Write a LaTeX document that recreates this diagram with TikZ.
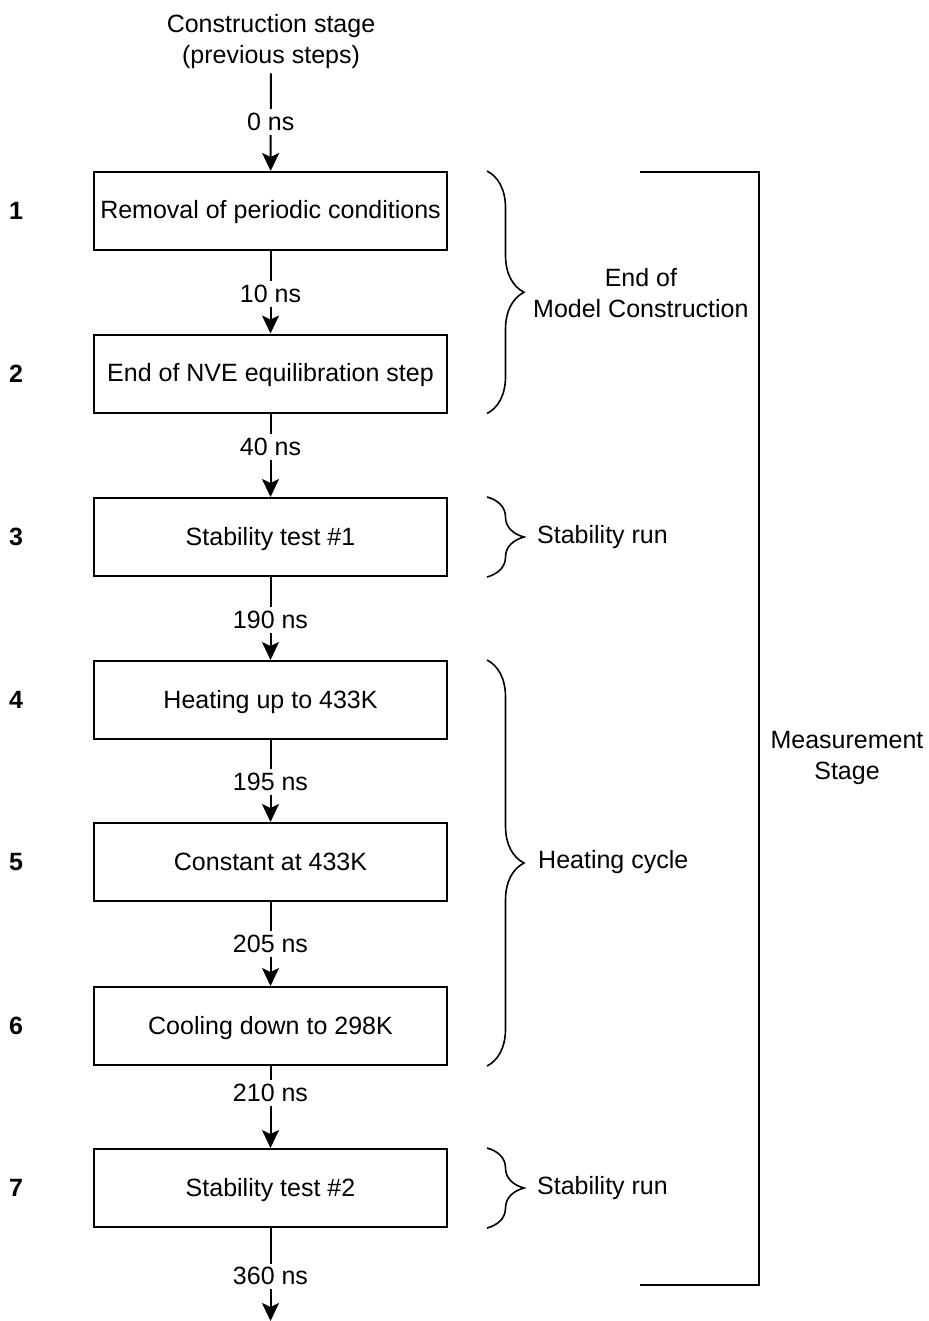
\documentclass[tikz,border=0pt]{standalone}
\usepackage{fontspec}
\setmainfont{Liberation Sans}
\usetikzlibrary{arrows.meta,decorations.pathreplacing}

\begin{document}
\begin{tikzpicture}[x=1pt, y=-1pt,
	font=\fontsize{25}{31}\selectfont,
	stepbox/.style={draw, line width=2pt, minimum width=353pt, minimum height=78pt, inner sep=0pt, text height=18pt, text depth=2pt},
	num/.style={font=\fontsize{25}{31}\selectfont\bfseries, inner sep=0pt},
	flow/.style={line width=2pt, -{Stealth[length=18pt, width=17pt, inset=4pt]}},
	lbl/.style={fill=white, inner sep=4pt},
	brc/.style={decorate, decoration={brace, amplitude=37pt, aspect=0.5}, line width=1.6pt},
	side/.style={align=center, anchor=west, inner sep=0pt}]
			\useasboundingbox (0,0) rectangle (928,1321);
			% steps
			\node (top) at (271,42) [align=center, inner sep=4pt] {Construction stage\\(previous steps)};
			\node (s1) at (270.5,211) [stepbox] {Removal of periodic conditions};
			\node (s2) at (270.5,373.5) [stepbox] {End of NVE equilibration step};
			\node (s3) at (270.5,537) [stepbox] {Stability test \#1};
			\node (s4) at (270.5,700) [stepbox] {Heating up to 433K};
			\node (s5) at (270.5,862) [stepbox] {Constant at 433K};
			\node (s6) at (270.5,1026) [stepbox] {Cooling down to 298K};
			\node (s7) at (270.5,1188) [stepbox] {Stability test \#2};
			\coordinate (end) at (270.5,1321);
			% numbers
			\node (n1) at (16,211) [num] {1};
			\node (n2) at (16,373.5) [num] {2};
			\node (n3) at (16,537) [num] {3};
			\node (n4) at (16,700) [num] {4};
			\node (n5) at (16,862) [num] {5};
			\node (n6) at (16,1026) [num] {6};
			\node (n7) at (16,1188) [num] {7};
			% times
			\draw[flow] (top) -- node[lbl, pos=0.5] {0 ns} (s1);
			\draw[flow] (s1) -- node[lbl, pos=0.52] {10 ns} (s2);
			\draw[flow] (s2) -- node[lbl, pos=0.4] {40 ns} (s3);
			\draw[flow] (s3) -- node[lbl, pos=0.52] {190 ns} (s4);
			\draw[flow] (s4) -- node[lbl, pos=0.51] {195 ns} (s5);
			\draw[flow] (s5) -- node[lbl, pos=0.5] {205 ns} (s6);
			\draw[flow] (s6) -- node[lbl, pos=0.33] {210 ns} (s7);
			\draw[flow] (s7) -- node[lbl, pos=0.52] {360 ns} (end);
			% braces
			\draw[brc] ([xshift=39pt]s1.north east) -- ([xshift=39pt]s2.south east);
			\draw[brc] ([xshift=39pt]s3.north east) -- ([xshift=39pt]s3.south east);
			\draw[brc] ([xshift=39pt]s4.north east) -- ([xshift=39pt]s6.south east);
			\draw[brc] ([xshift=39pt]s7.north east) -- ([xshift=39pt]s7.south east);
			\node (emc) at (533,293) [side] {End of\\Model Construction};
			\node (sr1) at (537,537) [side] {Stability run};
			\node (hc) at (538,862) [side] {Heating cycle};
			\node (sr2) at (537,1188) [side] {Stability run};
			% measurement stage
			\draw[line width=2.4pt] (640,172) -| (759,1285) -- (640,1285);
			\node (ms) at (847,758) [align=center, inner sep=0pt] {Measurement\\Stage};
\end{tikzpicture}
\end{document}
